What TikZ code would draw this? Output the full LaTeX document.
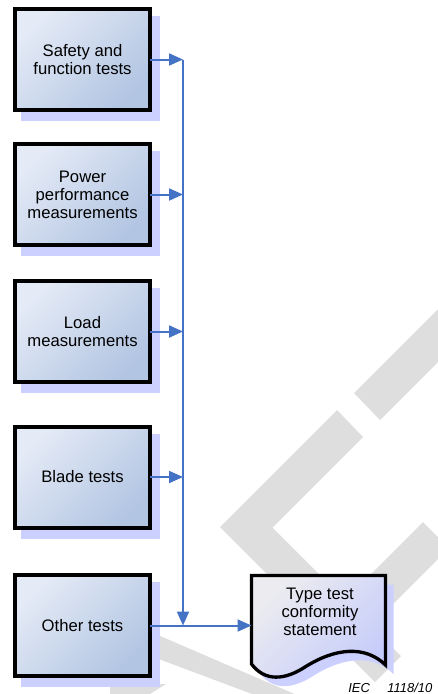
\documentclass[tikz,border=0pt]{standalone}
\usepackage{fontspec}
\newfontfamily\lblfont{Liberation Sans}
\usetikzlibrary{arrows.meta,shadows}
\definecolor{boxlight}{RGB}{228,234,246}
\definecolor{boxdark}{RGB}{178,197,226}
\definecolor{shadowc}{RGB}{204,208,255}
\definecolor{doclight}{RGB}{236,236,240}
\definecolor{docdark}{RGB}{198,204,250}
\definecolor{conncol}{RGB}{68,114,196}
\definecolor{wmark}{RGB}{222,222,222}
\begin{document}
\begin{tikzpicture}[x=0.75pt,y=-0.75pt,
  testbox/.style={draw=black, line width=3pt, minimum width=101.25pt, minimum height=75.75pt,
    outer sep=0pt, inner sep=0pt, align=center,
    font=\lblfont\fontsize{12.5}{13.5}\selectfont,
    top color=boxlight, bottom color=boxdark, shading angle=45,
    general shadow={fill=shadowc, draw=shadowc, line width=3pt, shadow xshift=6pt, shadow yshift=-6.75pt}},
  docbox/.style={draw=none, minimum width=100.5pt, minimum height=76.5pt, outer sep=0pt, inner sep=0pt},
  doctext/.style={align=center, inner sep=0pt, font=\lblfont\fontsize{12.5}{13.5}\selectfont},
  conn/.style={draw=conncol, line width=1.5pt, -{Triangle[length=10.5pt,width=9pt]}},
  wm/.style={fill=wmark, draw=none},
  ieclabel/.style={anchor=base west, inner sep=0pt, font=\lblfont\itshape\fontsize{9.75}{11}\selectfont}
]
\useasboundingbox (0,0) rectangle (438,694);
% watermark
\begin{scope}
  \clip (0,0) rectangle (438,694);
  \path[wm] (354,393) -- (380,420) -- (500,300) -- (474,273) -- cycle;
  \path[wm] (363,437) -- (337,410) -- (220,527) -- (375,682) -- (401,656) -- (272.5,527.5) -- cycle;
  \path[wm] (423,522) -- (449,548) -- (346,651) -- (320,625) -- cycle;
  \path[wm] (100,610) -- (320,705) -- (300,712) -- (100,637) -- cycle;
  \path[wm] (110,684) -- (166,684) -- (150,694) -- (110,694) -- cycle;
\end{scope}
% test boxes
\node[testbox] (b1) at (82.5,59.5) {Safety and\\function tests};
\node[testbox] (b2) at (82.5,194.5) {Power\\performance\\measurements};
\node[testbox] (b3) at (82.5,331.5) {Load\\measurements};
\node[testbox] (b4) at (82.5,477) {Blade tests};
\node[testbox] (b5) at (82.5,625.5) {Other tests};
% document
\fill[shadowc, shift={(8,9)}] (251.5,575.5) -- (385.5,575.5) -- (385.5,665)
  .. controls (365,645) and (335,648) .. (305,667)
  .. controls (285,680) and (265,682) .. (251.5,664) -- cycle;
\draw[line width=2.5pt, top color=doclight, bottom color=docdark, shading angle=45]
  (251.5,575.5) -- (385.5,575.5) -- (385.5,665)
  .. controls (365,645) and (335,648) .. (305,667)
  .. controls (285,680) and (265,682) .. (251.5,664) -- cycle;
\node[docbox] (doc) at (318.5,625.5) {};
\node[doctext] (doclbl) at (320,612) {Type test\\conformity\\statement};
% connectors
\coordinate (j1) at (183,59.5);
\coordinate (j2) at (183,194.5);
\coordinate (j3) at (183,331.5);
\coordinate (j4) at (183,477);
\coordinate (j5) at (183,625.5);
\draw[conn] (b1.east) -- (j1);
\draw[conn] (b2.east) -- (j2);
\draw[conn] (b3.east) -- (j3);
\draw[conn] (b4.east) -- (j4);
\draw[conn] (j1) -- (j5);
\draw[conn] (b5.east) -- (doc.west);
% label
\node[ieclabel] (iec) at (348,692.5) {IEC};
\node[ieclabel] (iecnum) at (387,692.5) {1118/10};
\end{tikzpicture}
\end{document}
